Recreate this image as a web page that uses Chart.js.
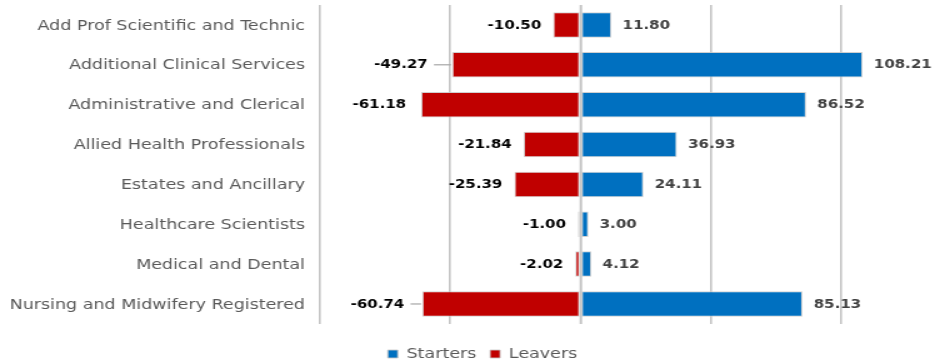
<!DOCTYPE html>
<html>
<head>
<meta charset="utf-8">
<script src="https://cdn.jsdelivr.net/npm/chart.js@4/dist/chart.umd.min.js"></script>
<style>
  html, body { margin: 0; padding: 0; background: #ffffff; overflow: hidden; }
</style>
</head>
<body>
<canvas id="c" width="748" height="362" style="width:935px;height:362px;display:block"></canvas>
<script>
const categories = [
  'Add Prof Scientific and Technic',
  'Additional Clinical Services',
  'Administrative and Clerical',
  'Allied Health Professionals',
  'Estates and Ancillary',
  'Healthcare Scientists',
  'Medical and Dental',
  'Nursing and Midwifery Registered'
];
const starters = [11.80, 108.21, 86.52, 36.93, 24.11, 3.00, 4.12, 85.13];
const leavers = [-10.50, -49.27, -61.18, -21.84, -25.39, -1.00, -2.02, -60.74];
const seriesNames = ['Starters', 'Leavers'];
const gridTicks = [-100, -50, 0, 50, 100];

// label placement styling (extra gap + leader line for a few leaver labels)
const leaverLabelExtraGap = [0, 10, 2.4, 0, 0, 0, 0, 4.8];
const leaverLeaderLine = [false, true, false, false, false, false, false, true];

const FONT = "'DejaVu Sans', Verdana, sans-serif";
Chart.defaults.font.family = FONT;

const labelPlugin = {
  id: 'barLabels',
  afterLayout(chart) {
    // shift the legend block slightly to the right, as in the original
    if (chart.legend) { chart.legend.left = 24; }
  },
  afterDatasetsDraw(chart) {
    const ctx = chart.ctx;
    const xs = chart.scales.x;
    const area = chart.chartArea;
    // axis line at zero, drawn over the bars
    const x0 = xs.getPixelForValue(0);
    ctx.save();
    ctx.strokeStyle = '#c4c4c4';
    ctx.lineWidth = 1.6;
    ctx.beginPath();
    ctx.moveTo(x0, area.top);
    ctx.lineTo(x0, area.bottom);
    ctx.stroke();

    ctx.font = "bold 12px " + FONT;
    ctx.textBaseline = 'middle';
    chart.data.datasets.forEach((ds, di) => {
      const meta = chart.getDatasetMeta(di);
      meta.data.forEach((bar, i) => {
        const v = ds.data[i];
        const txt = v.toFixed(2);
        if (v >= 0) {
          ctx.fillStyle = '#404040';
          ctx.textAlign = 'left';
          ctx.fillText(txt, bar.x + 9, bar.y + 0.5);
        } else {
          const gap = 9.6 + leaverLabelExtraGap[i];
          ctx.fillStyle = '#000000';
          ctx.textAlign = 'right';
          const tx = bar.x - gap;
          ctx.fillText(txt, tx, bar.y + 0.5);
          if (leaverLeaderLine[i]) {
            ctx.strokeStyle = '#a6a6a6';
            ctx.lineWidth = 1.2;
            ctx.beginPath();
            ctx.moveTo(tx + 5, bar.y);
            ctx.lineTo(bar.x - 1, bar.y);
            ctx.stroke();
          }
        }
      });
    });
    ctx.restore();
  }
};

new Chart(document.getElementById('c'), {
  type: 'bar',
  data: {
    labels: categories,
    datasets: [
      {
        label: seriesNames[0],
        data: starters,
        backgroundColor: '#0070C0',
        borderColor: 'rgba(200,200,200,0.85)',
        borderWidth: 1,
        borderSkipped: false,
        barPercentage: 0.64,
        categoryPercentage: 1
      },
      {
        label: seriesNames[1],
        data: leavers,
        backgroundColor: '#C00000',
        borderColor: 'rgba(200,200,200,0.85)',
        borderWidth: 1,
        borderSkipped: false,
        barPercentage: 0.64,
        categoryPercentage: 1
      }
    ]
  },
  options: {
    indexAxis: 'y',
    responsive: false,
    animation: false,
    devicePixelRatio: 1,
    layout: { padding: { top: 5, left: 0, right: 0, bottom: 0 } },
    scales: {
      x: {
        stacked: true,
        min: -100,
        max: 136,
        ticks: { display: false, stepSize: 50 },
        afterBuildTicks(scale) {
          scale.ticks = gridTicks.map(v => ({ value: v }));
        },
        afterFit(scale) {
          scale.height = 12.1;
          scale.paddingLeft = 0; scale.paddingRight = 0;
        },
        grid: { color: '#c4c4c4', lineWidth: 1.6, drawTicks: false },
        border: { display: false }
      },
      y: {
        stacked: true,
        grid: { display: false, drawTicks: false },
        border: { display: false },
        ticks: {
          color: '#595959',
          font: { size: 14, family: FONT },
          padding: 12,
          labelOffset: 1
        },
        afterFit(scale) {
          scale.width = 256;
          scale.paddingTop = 0; scale.paddingBottom = 0;
        }
      }
    },
    plugins: {
      legend: {
        position: 'bottom',
        maxHeight: 26,
        labels: {
          color: '#595959',
          font: { size: 14, family: FONT },
          boxWidth: 8,
          boxHeight: 8,
          padding: 11
        }
      },
      tooltip: { enabled: false }
    }
  },
  plugins: [labelPlugin]
});
</script>
</body>
</html>
